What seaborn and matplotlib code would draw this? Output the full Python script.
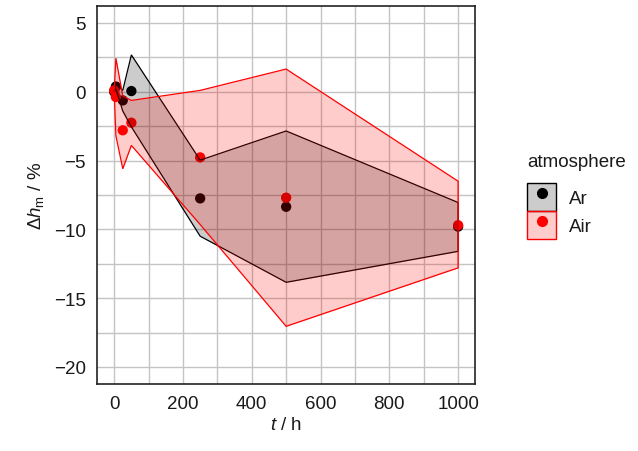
import numpy as np
import pandas as pd
import matplotlib
matplotlib.use('Agg')
import matplotlib.pyplot as plt
import seaborn as sns
from matplotlib.patches import Patch
from matplotlib.lines import Line2D
from matplotlib.legend_handler import HandlerTuple

# ageing time in h
t = [0, 5, 25, 50, 250, 500, 1000]

# Ar
ar_mean = [0.0, 0.38, -0.63, 0.05, -7.75, -8.36, -9.8]
ar_lo = [0.0, 0.2, -1.4, -2.55, -10.5, -13.85, -11.6]
ar_hi = [0.0, 0.55, 0.1, 2.68, -4.97, -2.85, -8.05]

# Air
air_mean = [0.1, -0.38, -2.8, -2.25, -4.77, -7.7, -9.7]
air_lo = [0.0, -3.2, -5.6, -3.9, -9.65, -17.05, -12.8]
air_hi = [0.0, 2.44, -0.3, -0.63, 0.1, 1.65, -6.5]

groups = ['Ar', 'Air']
colors = {'Ar': 'black', 'Air': 'red'}

df = pd.DataFrame({
    't': t * 2,
    'dh': ar_mean + air_mean,
    'lo': ar_lo + air_lo,
    'hi': ar_hi + air_hi,
    'atmosphere': ['Ar'] * len(t) + ['Air'] * len(t),
})

sns.set_style('white')
plt.rcParams['font.family'] = ['Liberation Sans', 'DejaVu Sans']
plt.rcParams['mathtext.fontset'] = 'custom'
plt.rcParams['mathtext.rm'] = 'Liberation Sans'
plt.rcParams['mathtext.it'] = 'Liberation Sans:italic'
plt.rcParams['text.color'] = '#1a1a1a'
plt.rcParams['axes.labelcolor'] = '#1a1a1a'

fig = plt.figure(figsize=(6.38, 4.52), dpi=100)
ax = fig.add_axes([0.152, 0.148, 0.593, 0.837])

sns.scatterplot(data=df, x='t', y='dh', hue='atmosphere', palette=colors,
                s=55, edgecolor='none', legend=False, zorder=2, ax=ax)

for i, g in enumerate(groups):
    sub = df[df['atmosphere'] == g]
    ax.fill_between(sub['t'], sub['lo'], sub['hi'], facecolor=colors[g],
                    alpha=0.2, zorder=3 + i, linewidth=0)
    ax.fill(np.r_[sub['t'], sub['t'][::-1]], np.r_[sub['lo'], sub['hi'][::-1]],
            facecolor='none', edgecolor=colors[g], lw=0.9, zorder=3 + i)

ax.set_xlim(-50, 1050)
ax.set_ylim(-21.25, 6.25)
ax.set_xticks([0, 200, 400, 600, 800, 1000])
ax.set_yticks([5, 0, -5, -10, -15, -20])
ax.set_xticks(np.arange(0, 1001, 100), minor=True)
ax.set_yticks(np.arange(-20, 5.1, 2.5), minor=True)
ax.grid(which='both', color='#c4c4c4', lw=1.0, zorder=0)
ax.set_axisbelow(True)
ax.tick_params(which='major', direction='in', length=6, width=1.0,
               color='#333333', labelcolor='#1a1a1a', labelsize=13.5, pad=8)
ax.tick_params(which='minor', length=0)
for sp in ax.spines.values():
    sp.set_color('#222222')
    sp.set_linewidth(1.2)

ax.set_xlabel(r'$t$ / h', fontsize=13.5, labelpad=3)
ax.set_ylabel(r'$\Delta h_\mathrm{m}$ / %', fontsize=13.5, labelpad=6)

handles = []
for g in groups:
    handles.append((Patch(facecolor=colors[g], alpha=0.2, edgecolor='none'),
                    Patch(facecolor='none', edgecolor=colors[g], lw=1.0),
                    Line2D([], [], marker='o', ls='none', color=colors[g], markersize=7)))
leg = fig.legend(handles, groups, title='atmosphere', loc='center left',
                 bbox_to_anchor=(0.815, 0.564), frameon=False, fontsize=13.5,
                 title_fontsize=13.5, handlelength=1.5, handleheight=1.92,
                 handletextpad=0.7, labelspacing=0.0, borderaxespad=0,
                 handler_map={tuple: HandlerTuple(ndivide=1, pad=0)})
leg._legend_box.align = 'left'
leg._legend_box.sep = 9

fig.savefig('out.png', dpi=100)
